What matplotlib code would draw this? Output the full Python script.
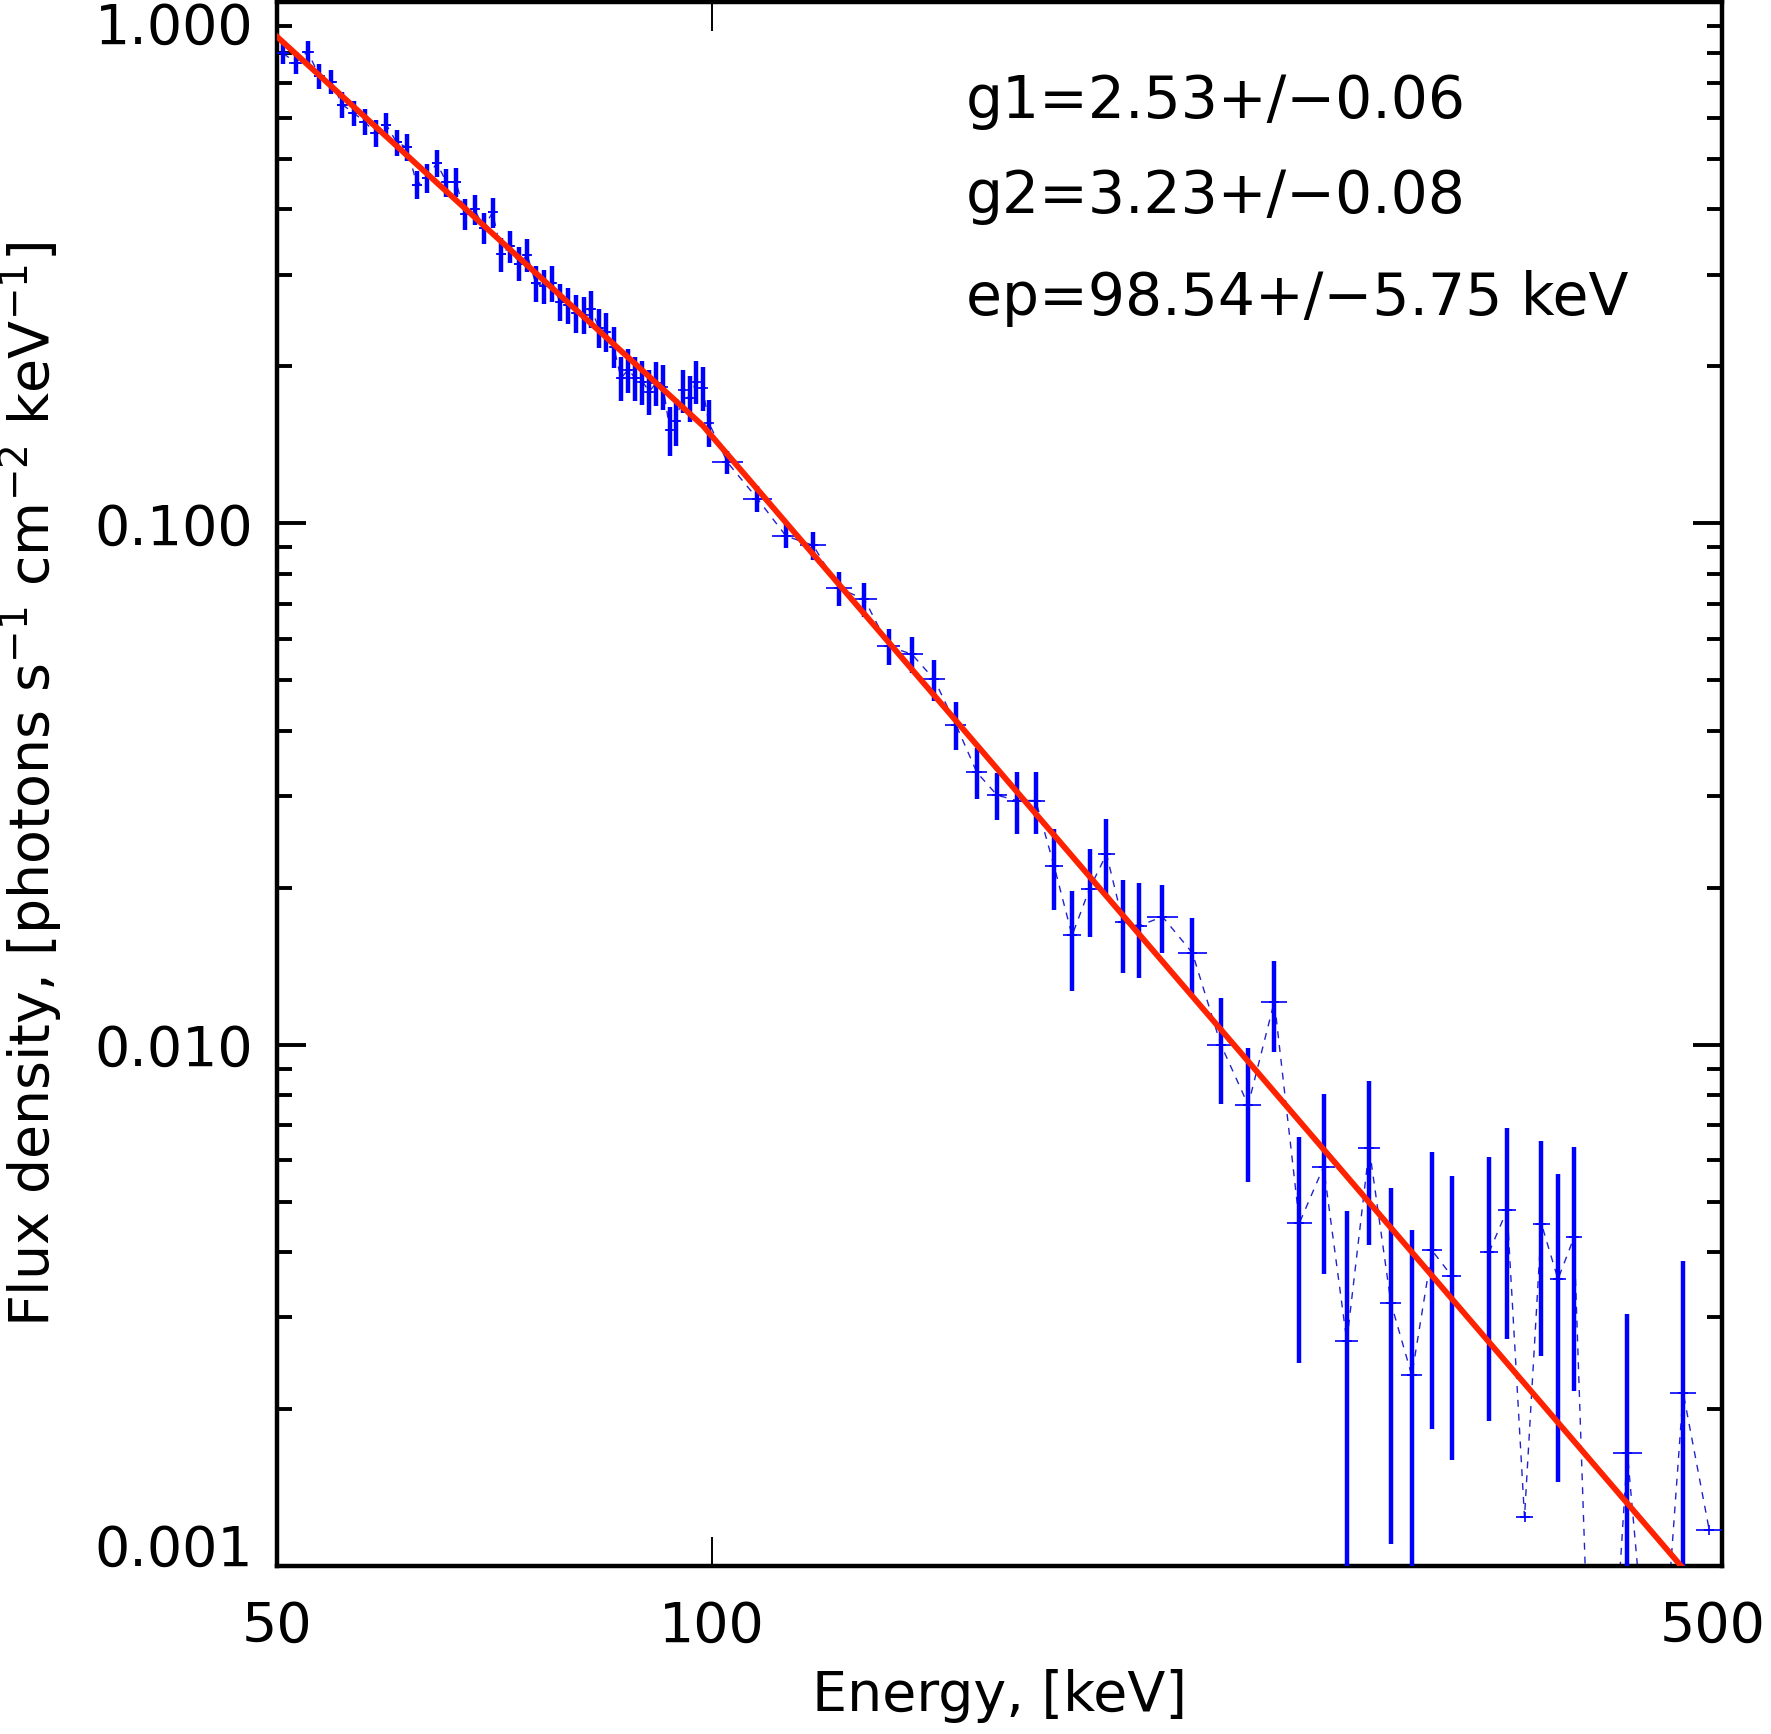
import numpy as np
import matplotlib
matplotlib.use("Agg")
import matplotlib.pyplot as plt
import matplotlib.transforms as mtransforms
from matplotlib.ticker import FixedLocator, NullLocator, LogLocator, NullFormatter

# 1 keV bins, 50-100 keV
e_low = [50.5, 51.5, 52.5, 53.5, 54.5, 55.5, 56.5, 57.5, 58.5, 59.5,
         60.5, 61.5, 62.5, 63.5, 64.5, 65.5, 66.5, 67.5, 68.5, 69.5,
         70.5, 71.5, 72.5, 73.5, 74.5, 75.5, 76.5, 77.5, 78.5, 79.5,
         80.5, 81.5, 82.5, 83.5, 84.5, 85.5, 86.5, 87.5, 88.5, 89.5,
         90.5, 91.5, 92.5, 93.5, 94.5, 95.5, 96.5, 97.5, 98.5, 99.5]
f_low = [0.797, 0.765, 0.803, 0.721, 0.703, 0.635, 0.613, 0.589, 0.561, 0.582,
         0.538, 0.526, 0.446, 0.459, 0.491, 0.451, 0.451, 0.392, 0.400, 0.369,
         0.395, 0.328, 0.340, 0.315, 0.327, 0.289, 0.285, 0.289, 0.266, 0.262,
         0.253, 0.251, 0.258, 0.237, 0.233, 0.218, 0.190, 0.197, 0.190, 0.187,
         0.179, 0.186, 0.183, 0.151, 0.157, 0.180, 0.174, 0.187, 0.182, 0.156]
err_low = [0.0381, 0.0366, 0.0384, 0.0398, 0.0373, 0.0360, 0.0338, 0.0334, 0.0330, 0.0317,
           0.0305, 0.0310, 0.0279, 0.0297, 0.0296, 0.0282, 0.0292, 0.0268, 0.0262, 0.0253,
           0.0262, 0.0249, 0.0238, 0.0232, 0.0241, 0.0228, 0.0218, 0.0228, 0.0215, 0.0208,
           0.0210, 0.0205, 0.0209, 0.0202, 0.0197, 0.0196, 0.0186, 0.0189, 0.0182, 0.0180,
           0.0177, 0.0182, 0.0182, 0.0161, 0.0160, 0.0172, 0.0174, 0.0179, 0.0175, 0.0161]
hw_low = [0.5] * 50

# wider bins above 100 keV
e_high = [102.5, 107.5, 112.5, 117.5, 122.5, 127.5, 132.5, 137.5, 142.5, 147.5,
          152.5, 157.5, 162.5, 167.5, 172.5, 177.5, 182.5, 187.5, 192.5, 197.5,
          205, 215, 225, 235, 245, 255, 265, 275, 285, 295,
          305, 315, 325, 335, 345, 355, 365, 375, 385, 395,
          410, 430, 450, 470, 490]
f_high = [0.1309, 0.1115, 0.0946, 0.0907, 0.0750, 0.0715, 0.0581, 0.0561, 0.0502, 0.0411,
          0.0333, 0.0301, 0.0294, 0.0294, 0.0220, 0.0162, 0.0199, 0.0232, 0.0172, 0.0169,
          0.0176, 0.0150, 0.0100, 0.00766, 0.0121, 0.00455, 0.00583, 0.00270, 0.00633, 0.00320,
          0.00232, 0.00403, 0.00360, np.nan, 0.00400, 0.00482, 0.00124, 0.00453, 0.00355, 0.00427,
          0.0002, 0.00165, 0.0004, 0.00215, 0.00117]
err_high = [0.0068, 0.0063, 0.0049, 0.0055, 0.0055, 0.0054, 0.0047, 0.0045, 0.0046, 0.0044,
            0.0037, 0.0031, 0.0040, 0.0040, 0.0039, 0.0035, 0.0038, 0.0039, 0.0035, 0.0035,
            0.0026, 0.0025, 0.0023, 0.0022, 0.0024, 0.0021, 0.0022, 0.0021, 0.0022, 0.0021,
            0.0021, 0.0022, 0.0020, np.nan, 0.0021, 0.0021, np.nan, 0.0020, 0.0021, 0.0021,
            np.nan, 0.0014, np.nan, 0.0017, np.nan]
hw_high = [2.5] * 20 + [5.0] * 20 + [10.0] * 5

# broken power law fit
fit_e = [50, 98.54, 500]
fit_f = [0.858, 0.154, 0.00081]

labels = ["g1=2.53+/\u22120.06", "g2=3.23+/\u22120.08", "ep=98.54+/\u22125.75 keV"]

energy = np.array(e_low + e_high)
flux = np.array(f_low + f_high)
ferr = np.array(err_low + err_high)
halfw = np.array(hw_low + hw_high)

plt.rcParams['font.family'] = ['DejaVu Sans']
fs = 40

fig = plt.figure(figsize=(17.71, 17.34), dpi=100)
ax = fig.add_axes([277 / 1771, 1 - 1566 / 1734, 1445 / 1771, 1564 / 1734])

ax.plot(energy, flux, color='#2222cc', lw=1.0, dashes=(5, 5), zorder=2)
ax.errorbar(energy, flux, yerr=ferr, fmt='none', ecolor='#0000ff', elinewidth=3.2, zorder=3)
ax.errorbar(energy, flux, xerr=halfw, fmt='+', color='#0000ff', ecolor='#0000ff',
            elinewidth=1.2, markersize=7, markeredgewidth=1.2, zorder=3)
ax.plot(fit_e, fit_f, color='#ff2200', lw=4.2, zorder=4)

ax.set_xscale('log')
ax.set_yscale('log')
ax.set_xlim(50, 500)
ax.set_ylim(0.001, 1.0)

ax.xaxis.set_major_locator(FixedLocator([50, 100, 500]))
ax.xaxis.set_minor_locator(NullLocator())
ax.set_xticklabels(['50', '100', '500'])
ax.yaxis.set_major_locator(FixedLocator([0.001, 0.01, 0.1, 1.0]))
ax.yaxis.set_minor_locator(LogLocator(base=10, subs=(2, 3, 4, 5, 6, 7, 8, 9)))
ax.yaxis.set_minor_formatter(NullFormatter())
ax.set_yticklabels(['0.001', '0.010', '0.100', '1.000'])

ax.tick_params(which='both', direction='in', top=True, right=True, labelsize=fs)
ax.tick_params(which='major', length=21, width=2.8)
ax.tick_params(which='minor', length=10.5, width=2.8)
ax.tick_params(axis='x', width=1.4, pad=24)
ax.tick_params(axis='y', pad=17)
for sp in ax.spines.values():
    sp.set_linewidth(3.2)

yt = ax.yaxis.get_major_ticks()
yt[0].label1.set_va('baseline')
yt[3].label1.set_va('top')

# keep the "500" label inside the figure, flush with the right edge
lab500 = ax.xaxis.get_major_ticks()[2].label1
lab500.set_ha('right')
lab500.set_transform(lab500.get_transform() +
                     mtransforms.ScaledTranslation(0.44, 0, fig.dpi_scale_trans))

ax.set_xlabel('Energy, [keV]', fontsize=fs)
ax.xaxis.set_label_coords(0.5, -0.066)
ax.set_ylabel(r'Flux density, [photons s$^{-1}$ cm$^{-2}$ keV$^{-1}$]', fontsize=fs)
ax.yaxis.set_label_coords(-0.147, 0.5)

for txt, yy in zip(labels, [0.9258, 0.8651, 0.7999]):
    ax.text(0.4768, yy, txt, transform=ax.transAxes, fontsize=42, va='baseline', ha='left')

fig.savefig('out.png', dpi=100)
